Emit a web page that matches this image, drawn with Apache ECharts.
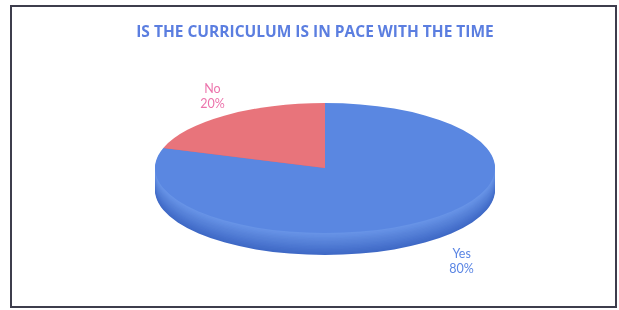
<!DOCTYPE html>
<html><head><meta charset="utf-8">
<script src="https://cdn.jsdelivr.net/npm/echarts@6/dist/echarts.min.js"></script>
<style>
html,body{margin:0;padding:0;background:#fff;overflow:hidden;}
#wrap{position:relative;width:619px;height:310px;overflow:hidden;background:#fff;}
#pie{position:absolute;left:0;top:0;width:619px;height:600px;}
#main{position:absolute;left:0;top:0;width:619px;height:310px;}
</style></head><body>
<div id="wrap"><div id="pie"></div><div id="main"></div></div>
<script>
// ---- data ----
const titleText = 'IS THE CURRICULUM IS IN PACE WITH THE TIME';
const categories = ['Yes', 'No'];
const values = [80, 20];

// ---- styles ----
const topColors = ['#5a87e1', '#e8747b'];
const sideTopColors = ['#6a96e8', '#d8656c'];
const sideBottomColors = ['#3f69c6', '#b04a50'];
const labelColors = ['#5b86e4', '#ec74ac'];

// ---- layout ----
const CX = 325, CY = 168, R = 170, RY = 65, T = 22;
const K = RY / R;
const INNER_CY = 200;
const LAYERS = 16;
const LCX = 337, LX = 212, LY = 88;

const pieDiv = document.getElementById('pie');
pieDiv.style.transformOrigin = '0 ' + INNER_CY + 'px';
pieDiv.style.transform = 'translateY(' + (CY - INNER_CY) + 'px) scaleY(' + K + ')';

function mix(c1, c2, t) {
  const a = parseInt(c1.slice(1), 16), b = parseInt(c2.slice(1), 16);
  const r = Math.round(((a >> 16) & 255) * (1 - t) + ((b >> 16) & 255) * t);
  const g = Math.round(((a >> 8) & 255) * (1 - t) + ((b >> 8) & 255) * t);
  const bl = Math.round((a & 255) * (1 - t) + (b & 255) * t);
  return 'rgb(' + r + ',' + g + ',' + bl + ')';
}

function pieLayer(offset, colors) {
  return {
    type: 'pie',
    center: [CX, INNER_CY + offset],
    radius: R,
    startAngle: 90,
    silent: true,
    animation: false,
    label: { show: false },
    labelLine: { show: false },
    itemStyle: { borderWidth: 0 },
    data: categories.map((c, i) => ({ name: c, value: values[i], itemStyle: { color: colors[i] } }))
  };
}

const pieSeries = [];
const depth = T / K;
for (let i = LAYERS; i >= 1; i--) {
  const t = i / LAYERS;
  const cols = categories.map((c, j) => mix(sideTopColors[j], sideBottomColors[j], t));
  pieSeries.push(pieLayer(depth * t, cols));
}
pieSeries.push(pieLayer(0, topColors));

const pieChart = echarts.init(pieDiv, null, { renderer: 'svg' });
pieChart.setOption({ animation: false, series: pieSeries });

const total = values.reduce((a, b) => a + b, 0);
function midAngle(idx) {
  let before = 0;
  for (let i = 0; i < idx; i++) before += values[i];
  return (90 - 360 * (before + values[idx] / 2) / total) * Math.PI / 180;
}

const main = echarts.init(document.getElementById('main'));
main.setOption({
  animation: false,
  backgroundColor: 'transparent',
  title: {
    text: titleText,
    left: 315,
    top: 25,
    padding: 0,
    textAlign: 'center',
    textStyle: { fontFamily: 'Open Sans', fontWeight: 'bold', fontSize: 15.5, color: '#5b7ee0' }
  },
  graphic: [{
    type: 'rect',
    shape: { x: 11, y: 6, width: 605, height: 301 },
    style: { fill: 'none', stroke: '#3d3d4c', lineWidth: 2 },
    silent: true
  }],
  series: [{
    type: 'pie',
    center: [LCX, CY],
    radius: R,
    startAngle: 90,
    silent: true,
    avoidLabelOverlap: false,
    itemStyle: { color: 'rgba(0,0,0,0)' },
    labelLine: { show: false },
    label: {
      show: true,
      position: 'outside',
      fontFamily: 'Lato',
      fontSize: 12.5,
      lineHeight: 15,
      formatter: p => p.name + '\n' + Math.round(p.percent) + '%'
    },
    labelLayout: function (params) {
      const a = midAngle(params.dataIndex);
      const s = Math.sin(a);
      return {
        x: LCX + LX * Math.cos(a),
        y: CY - LY * s + (s < 0 ? T : 0),
        align: 'center',
        verticalAlign: 'middle'
      };
    },
    data: categories.map((c, i) => ({ name: c, value: values[i], label: { color: labelColors[i] } }))
  }]
});
</script>
</body></html>
